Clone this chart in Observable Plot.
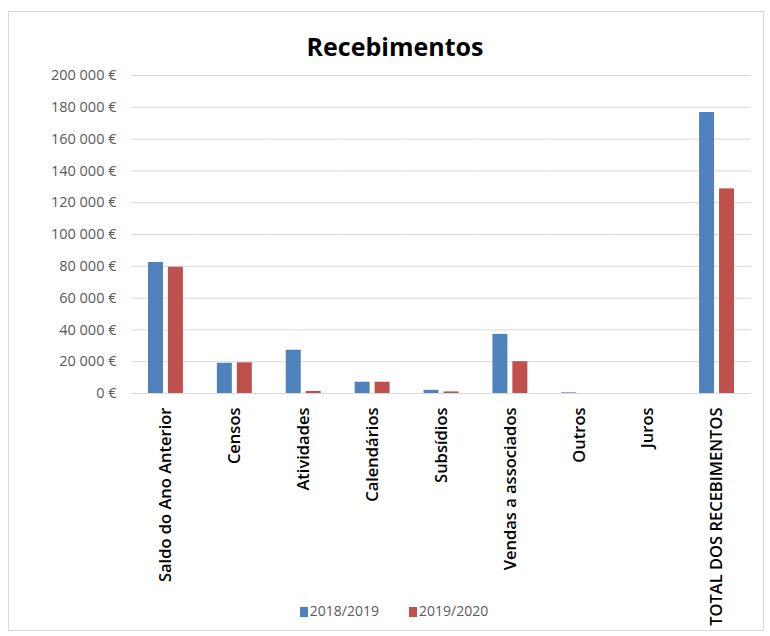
<!DOCTYPE html>
<html>
<head>
<meta charset="utf-8">
<script src="https://cdn.jsdelivr.net/npm/d3@7"></script>
<script src="https://cdn.jsdelivr.net/npm/@observablehq/plot@0.6"></script>
<style>
  body { margin: 0; background: #fff; font-family: "Open Sans", sans-serif; }
  #wrap { position: relative; width: 770px; height: 636px; overflow: hidden; }
  #frame { position: absolute; left: 8px; top: 11px; width: 756px; height: 620px; border: 1px solid #d9d9d9; box-sizing: border-box; }
  #title { position: absolute; left: 0; top: 30px; width: 790px; text-align: center; font-weight: 700; font-size: 25px; color: #000; line-height: 32px; }
  #chart { position: absolute; left: 0; top: 60px; }
  #legend { position: absolute; left: 0; top: 600px; width: 788px; text-align: center; font-size: 14px; color: #595959; line-height: 22px; }
  .sw { display: inline-block; width: 8px; height: 10px; margin-right: 2px; vertical-align: -1px; }
  .item { margin: 0 15px; }
</style>
</head>
<body>
<div id="wrap">
  <div id="frame"></div>
  <div id="title">Recebimentos</div>
  <div id="chart"></div>
  <div id="legend"></div>
</div>
<script>
const categories = ["Saldo do Ano Anterior", "Censos", "Atividades", "Calendários", "Subsídios", "Vendas a associados", "Outros", "Juros", "TOTAL DOS RECEBIMENTOS"];
const series = ["2018/2019", "2019/2020"];
const values2018 = [82400, 19000, 27200, 7100, 2000, 37200, 400, 0, 176700];
const values2019 = [79400, 19300, 1300, 7100, 1000, 20000, 0, 0, 128700];
const colors = ["#4F81BD", "#C0504D"];
const yTicks = [0, 20000, 40000, 60000, 80000, 100000, 120000, 140000, 160000, 180000, 200000];

const data = [];
categories.forEach((c, i) => {
  data.push({cat: c, serie: series[0], value: values2018[i]});
  data.push({cat: c, serie: series[1], value: values2019[i]});
});

const fmt = d => d3.format(",")(d).replace(/,/g, " ") + " €";

const chart = Plot.plot({
  width: 770,
  height: 574,
  marginLeft: 131,
  marginRight: 19,
  marginTop: 15,
  marginBottom: 241,
  style: {fontFamily: "Open Sans, sans-serif", background: "transparent", overflow: "visible"},
  fx: {domain: categories, padding: 0, round: false, label: null},
  x: {domain: series, paddingInner: 0.25, paddingOuter: 0.85, round: false, axis: null},
  y: {domain: [0, 200000], label: null},
  color: {domain: series, range: colors},
  marks: [
    Plot.gridY(yTicks, {stroke: "#d9d9d9", strokeOpacity: 1}),
    Plot.axisY(yTicks, {tickSize: 0, tickPadding: 15, tickFormat: fmt, fill: "#595959", fontSize: 14.5, label: null}),
    Plot.axisFx({anchor: "bottom", tickRotate: -90, tickSize: 0, tickPadding: 14, fontSize: 16.5, fontWeight: 600, fill: "#000", label: null}),
    Plot.barY(data, {fx: "cat", x: "serie", y: "value", fill: "serie"})
  ]
});
document.getElementById("chart").appendChild(chart);

const legend = document.getElementById("legend");
series.forEach((s, i) => {
  const span = document.createElement("span");
  span.className = "item";
  const sw = document.createElement("span");
  sw.className = "sw";
  sw.style.background = colors[i];
  span.appendChild(sw);
  span.appendChild(document.createTextNode(s));
  legend.appendChild(span);
});
</script>
</body>
</html>
